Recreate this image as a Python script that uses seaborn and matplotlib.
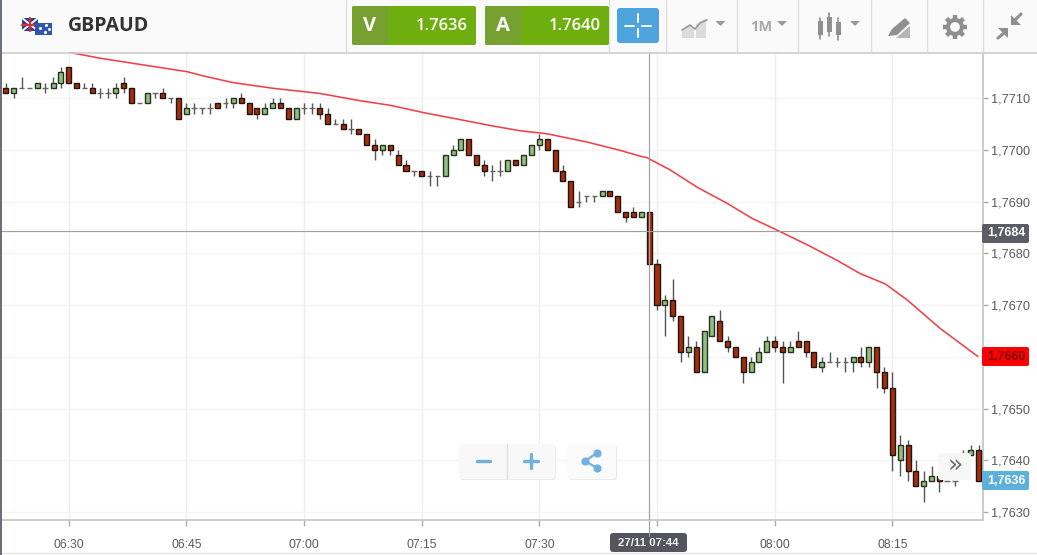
import numpy as np
import pandas as pd
import matplotlib
matplotlib.use("Agg")
import matplotlib.pyplot as plt
from matplotlib.patches import Circle, FancyBboxPatch, Polygon, Rectangle
import seaborn as sns

# candle values are in pips above this price, one candle per minute from 06:22
base_price = 1.76

open_pips = [
    112, 111, 112, 112, 112, 112, 112, 113, 116, 113,
    112, 112, 111, 111, 111, 113, 112, 109, 109, 111,
    111, 110, 110, 107, 108, 108, 108, 109, 109, 109,
    110, 109, 108, 107, 108, 109, 108, 106, 108, 108,
    108, 107, 105, 105, 104, 104, 103, 101, 100, 101,
    99, 97, 96, 96, 95, 95, 95, 99, 100, 102,
    99, 97, 96, 96, 96, 98, 97, 99, 101, 102,
    100, 96, 94, 90, 91, 91, 91, 92, 91, 88,
    88, 87, 88, 78, 70, 71, 68, 61, 62, 57,
    64, 67, 63, 62, 60, 57, 59, 61, 63, 62,
    61, 63, 63, 61, 58, 59, 59, 59, 59, 60,
    59, 62, 57, 54, 40, 43, 38, 35, 36, 37,
    36, 36, 39, 41, 42,
]
close_pips = [
    111, 112, 112, 112, 113, 112, 113, 115, 113, 112,
    112, 111, 111, 111, 112, 112, 109, 109, 111, 111,
    110, 110, 106, 108, 108, 108, 108, 108, 109, 110,
    109, 107, 107, 108, 109, 108, 106, 108, 108, 108,
    107, 105, 105, 104, 104, 103, 101, 100, 101, 100,
    97, 96, 96, 95, 95, 95, 99, 100, 102, 99,
    97, 96, 96, 96, 98, 97, 99, 101, 102, 100,
    96, 94, 89, 90, 91, 91, 92, 91, 88, 87,
    87, 88, 78, 70, 71, 68, 61, 62, 57, 65,
    68, 63, 62, 60, 57, 59, 61, 63, 62, 61,
    62, 62, 61, 58, 59, 59, 59, 59, 60, 59,
    62, 57, 54, 41, 43, 38, 35, 36, 37, 36,
    36, 36, 41, 42, 36,
]
high_pips = [
    113, 112, 114, 112, 113, 113, 114, 116, 116, 113,
    113, 113, 112, 112, 113, 114, 112, 109, 111, 111,
    112, 110, 110, 109, 109, 108, 109, 109, 110, 110,
    111, 109, 108, 109, 110, 110, 108, 108, 109, 109,
    109, 108, 106, 106, 106, 104, 103, 102, 101, 101,
    100, 98, 96, 96, 96, 95, 99, 101, 102, 102,
    99, 98, 97, 98, 98, 98, 99, 101, 103, 102,
    100, 97, 94, 92, 91, 91, 92, 92, 91, 88,
    89, 88, 88, 79, 72, 75, 68, 64, 63, 65,
    68, 69, 64, 62, 60, 60, 62, 64, 64, 63,
    63, 65, 63, 61, 60, 61, 60, 60, 60, 62,
    62, 62, 58, 57, 45, 44, 40, 38, 39, 37,
    36, 36, 42, 43, 43,
]
low_pips = [
    111, 110, 112, 112, 112, 111, 112, 112, 113, 112,
    112, 111, 110, 110, 110, 111, 109, 109, 109, 110,
    110, 109, 106, 107, 107, 107, 107, 108, 108, 108,
    109, 107, 106, 107, 108, 108, 106, 106, 107, 107,
    106, 105, 105, 104, 103, 103, 101, 98, 99, 99,
    97, 96, 95, 95, 93, 93, 95, 99, 100, 99,
    97, 95, 94, 95, 96, 97, 97, 99, 100, 100,
    96, 94, 89, 89, 90, 90, 91, 91, 88, 86,
    87, 87, 78, 69, 64, 67, 59, 60, 57, 57,
    64, 63, 61, 60, 55, 57, 59, 61, 61, 55,
    61, 62, 60, 58, 57, 59, 58, 57, 57, 58,
    58, 54, 53, 38, 37, 36, 35, 32, 36, 34,
    36, 35, 39, 41, 36,
]

# moving average
ma_minutes = [8.2, 12.0, 17.1, 23.1, 25.1, 28.9, 34.0, 40.0, 45.1, 49.0, 53.2, 57.0, 62.1, 65.5, 69.0, 74.1,
              78.3, 80.8, 81.7, 84.7, 88.1, 91.9, 95.2, 98.3, 102.1, 105.9, 108.9, 112.1, 114.9, 119.1, 123.9]
ma_pips = [118.8, 117.7, 116.5, 115.1, 114.3, 113.0, 111.9, 110.9, 109.5, 108.6, 107.2, 106.1, 104.6, 103.7, 103.1, 101.5,
           99.9, 98.8, 98.5, 96.1, 92.8, 89.7, 86.7, 84.5, 81.7, 78.7, 76.1, 74.1, 71.0, 65.5, 60.1]

x_tick_minutes = [8, 23, 38, 53, 68, 83, 98, 113]
x_tick_labels = ["06:30", "06:45", "07:00", "07:15", "07:30", "", "08:00", "08:15"]  # 07:45 sits under the time label
y_ticks = [1.7630, 1.7640, 1.7650, 1.7660, 1.7670, 1.7680, 1.7690, 1.7700, 1.7710]
y_tick_labels = ["1,7630", "1,7640", "1,7650", "", "1,7670", "1,7680", "1,7690", "1,7700", "1,7710"]  # 1,7660 is the red flag

cross_minute = 82
cross_price = 1.76843

sns.set_theme(style="white")
plt.rcParams["font.family"] = ["Liberation Sans", "DejaVu Sans"]

fig = plt.figure(figsize=(10.37, 5.55), dpi=100, facecolor="white")
ax = fig.add_axes([0, 35 / 555, 983 / 1037, 468 / 555])

opens = base_price + np.array(open_pips) / 10000
closes = base_price + np.array(close_pips) / 10000
highs = base_price + np.array(high_pips) / 10000
lows = base_price + np.array(low_pips) / 10000
minutes = np.arange(len(opens))

ax.set_xlim(-0.76, 124.56)
ax.set_ylim(1.76285, 1.77189)
ax.grid(True, axis="x", color="#eeeeee", linewidth=1, zorder=0)
ax.grid(True, axis="y", color="#f4f4f4", linewidth=1, zorder=0)
ax.set_axisbelow(True)

ax.vlines(minutes, lows, highs, color="#555555", linewidth=1.0, zorder=3)

up = closes > opens
down = closes < opens
flat = closes == opens
ax.bar(minutes[up], (closes - opens)[up], bottom=opens[up], width=0.64,
       color="#90bf80", edgecolor="#26321f", linewidth=1.0, zorder=4)
ax.bar(minutes[down], (opens - closes)[down], bottom=closes[down], width=0.64,
       color="#a62e0c", edgecolor="#1f1410", linewidth=1.0, zorder=4)
ax.hlines(opens[flat], minutes[flat] - 0.35, minutes[flat] + 0.35, color="#666666", linewidth=1.0, zorder=4)

ma_df = pd.DataFrame({"minute": ma_minutes, "price": base_price + np.array(ma_pips) / 10000})
sns.lineplot(data=ma_df, x="minute", y="price", color="#ee4249", linewidth=1.15, ax=ax, zorder=5)

ax.axvline(cross_minute, color="#a0a0a0", linewidth=0.85, zorder=6)
ax.axhline(cross_price, color="#a0a0a0", linewidth=0.85, zorder=6)

ax.set_xlabel("")
ax.set_ylabel("")
ax.set_xticks(x_tick_minutes)
ax.set_xticklabels(x_tick_labels)
ax.set_yticks(y_ticks)
ax.set_yticklabels(y_tick_labels)
ax.yaxis.tick_right()
ax.tick_params(axis="x", length=4, width=1, color="#aaaaaa", labelcolor="#5a5a5a", labelsize=8.7, pad=10, bottom=True)
ax.tick_params(axis="y", length=3.5, width=1, color="#aaaaaa", labelcolor="#5a5a5a", labelsize=9.2, pad=2, right=True)
for side in ["top", "left"]:
    ax.spines[side].set_visible(False)
for side in ["right", "bottom"]:
    ax.spines[side].set_color("#cccccc")
    ax.spines[side].set_linewidth(1.4)

# everything around the plot is placed in pixels on a clear overlay
ui = fig.add_axes([0, 0, 1, 1], facecolor="none", zorder=10)
ui.set_xlim(0, 1037)
ui.set_ylim(555, 0)
ui.axis("off")


def box(x0, y0, x1, y1, color, radius=2, edge="none", z=2):
    ui.add_patch(FancyBboxPatch((x0 + radius, y0 + radius), x1 - x0 - 2 * radius, y1 - y0 - 2 * radius,
                                boxstyle=f"round,pad={radius},rounding_size={radius}",
                                facecolor=color, edgecolor=edge, linewidth=0.8, zorder=z))


def rect(x0, y0, x1, y1, color, z=2):
    ui.add_patch(Rectangle((x0, y0), x1 - x0, y1 - y0, facecolor=color, edgecolor="none", zorder=z))


def arrow_down(cx, cy, half=5, color="#9a9a9a"):
    ui.add_patch(Polygon([(cx - half, cy - 2), (cx + half, cy - 2), (cx, cy + 3)], facecolor=color, edgecolor="none", zorder=3))


# header
rect(0, 0, 1037, 52, "#fafafa", z=1)
ui.plot([0, 1037], [52.5, 52.5], color="#cccccc", linewidth=1.2, zorder=2)
rect(0, 0, 1.5, 555, "#6d7078", z=3)
for xd in [346, 609, 665.5, 737, 798, 870.5, 926.5, 982.5]:
    ui.plot([xd, xd], [0, 52], color="#dddddd", linewidth=1, zorder=2)

# flags
rect(22, 18, 38, 31, "#2b3f8c", z=3)
ui.plot([22, 38], [18, 31], color="white", linewidth=1.4, zorder=3)
ui.plot([22, 38], [31, 18], color="white", linewidth=1.4, zorder=3)
ui.plot([30, 30], [18, 31], color="#d0303a", linewidth=1.6, zorder=3)
ui.plot([22, 38], [24.5, 24.5], color="#d0303a", linewidth=1.6, zorder=3)
rect(35, 23, 52, 34.5, "#2f56a8", z=4)
ui.scatter([40, 46, 49, 45], [28, 25, 29, 32], s=1.5, color="white", zorder=5)
ui.text(68, 26, "GBPAUD", family="Open Sans", fontsize=14, fontweight="bold", color="#333333", va="center", ha="left", zorder=4)

# bid and ask buttons
for x0, letter, price in [(352, "V", "1.7636"), (485, "A", "1.7640")]:
    box(x0, 6, x0 + 124, 45, "#6fae0f", radius=2)
    box(x0, 6, x0 + 36, 45, "#76a02f", radius=2, z=3)
    rect(x0 + 33, 6, x0 + 36, 45, "#76a02f", z=3)
    ui.text(x0 + 18, 26, letter, family="Open Sans", fontsize=14.5, fontweight="bold", color="white", ha="center", va="center", zorder=4)
    ui.text(x0 + 116, 25.5, price, family="Open Sans", fontsize=12, fontweight="semibold", color="white", ha="right", va="center", zorder=4)

# crosshair button
box(617, 8, 659, 43, "#4ea4dd", radius=3)
for seg in [([625, 634], [25.5, 25.5]), ([642, 651], [25.5, 25.5]), ([638, 638], [14, 22]), ([638, 638], [29, 37])]:
    ui.plot(seg[0], seg[1], color="white", linewidth=1.4, zorder=4)

# chart type icon
ui.add_patch(Polygon([(682, 38), (682, 29), (690, 25), (694, 29), (694, 38)], facecolor="#dcdcdc", edgecolor="none", zorder=3))
ui.add_patch(Polygon([(696, 38), (696, 24), (706, 18), (706, 38)], facecolor="#dcdcdc", edgecolor="none", zorder=3))
ui.plot([682, 690, 695, 700, 707], [30, 25, 29, 23, 20], color="#9a9a9a", linewidth=1.2, zorder=4)
arrow_down(720.5, 23)

ui.text(750, 27, "1M", family="Open Sans", fontsize=10.5, fontweight="bold", color="#a8a8a8", ha="left", va="center", zorder=4)
arrow_down(782, 23)

# candle icon
for cx, top, bot, t2, b2 in [(820, 21, 35, 18, 39), (829, 17, 32, 13, 36), (838, 22, 35, 18, 40)]:
    rect(cx - 2.5, top, cx + 2.5, bot, "#8f8f8f", z=3)
    ui.plot([cx, cx], [t2, b2], color="#8f8f8f", linewidth=1.2, zorder=3)
arrow_down(855, 23)

# pencil icon
ui.add_patch(Polygon([(888, 36), (892, 29), (905, 18), (910, 23), (897, 35)], facecolor="#8f8f8f", edgecolor="none", zorder=3))
ui.add_patch(Polygon([(896, 38), (910, 38), (910, 26)], facecolor="#b5b5b5", edgecolor="none", zorder=3))

# gear icon
for angle in np.arange(0, 360, 45):
    dx, dy = np.cos(np.radians(angle)), np.sin(np.radians(angle))
    ui.plot([955 + 8 * dx, 955 + 12 * dx], [27 + 8 * dy, 27 + 12 * dy], color="#8f8f8f", linewidth=3.2, zorder=3, solid_capstyle="butt")
ui.add_patch(Circle((955, 27), 7, facecolor="none", edgecolor="#8f8f8f", linewidth=3, zorder=3))

# collapse icon, two arrows pointing at the centre
ui.add_patch(Polygon([(1011, 15), (1011, 25), (1021, 25)], facecolor="#8f8f8f", edgecolor="none", zorder=3))
ui.plot([1015, 1021], [20, 14], color="#8f8f8f", linewidth=2.2, zorder=3)
ui.add_patch(Polygon([(998, 28), (1008, 28), (1008, 38)], facecolor="#8f8f8f", edgecolor="none", zorder=3))
ui.plot([1004, 998], [33, 38], color="#8f8f8f", linewidth=2.2, zorder=3)

# price flags on the axis
for y0, y1, color, txt, tcolor in [(224, 243, "#5c5c66", "1,7684", "white"),
                                   (347, 366, "#ff0000", "1,7660", "#7a0000"),
                                   (471, 490, "#5bb0dc", "1,7636", "white")]:
    box(982, y0, 1029, y1, color, radius=2)
    ui.text(1006, (y0 + y1) / 2, txt, fontsize=9, fontweight="bold", color=tcolor, ha="center", va="center", zorder=4)

# crosshair time label
box(610, 533, 687, 552, "#55555f", radius=3)
ui.plot([648.5, 648.5], [521, 536], color="#a0a0a0", linewidth=0.85, zorder=3)
ui.text(648.5, 542.5, "27/11 07:44", fontsize=8.2, fontweight="bold", color="#f0f0f0", ha="center", va="center", zorder=4)
ui.plot([0, 1037], [552.5, 552.5], color="#e4e4e4", linewidth=1, zorder=1)

# zoom and share buttons
box(460, 445, 556, 480, "#e9e9e9", radius=3, z=2)
box(459, 444, 555, 479, "#f8f8f8", radius=3, z=3)
ui.plot([506.5, 506.5], [444, 479], color="#dddddd", linewidth=1, zorder=4)
ui.plot([477, 490], [461, 461], color="#6fb2de", linewidth=2.4, zorder=4)
ui.plot([524, 538], [461, 461], color="#6fb2de", linewidth=2.4, zorder=4)
ui.plot([531, 531], [454, 468], color="#6fb2de", linewidth=2.4, zorder=4)
box(568, 445, 617, 480, "#e9e9e9", radius=3, z=2)
box(567, 444, 616, 479, "#fbfbfb", radius=3, z=3)
ui.plot([597, 585, 597], [453, 461, 468], color="#6fb2de", linewidth=1.6, zorder=4)
ui.scatter([597, 585, 597], [453, 461, 468], s=24, color="#6fb2de", zorder=5)

# scroll button
box(938, 453, 971, 480, "#f7f7f7", radius=3)
ui.text(955, 465.5, "»", family="DejaVu Sans", fontsize=18, color="#6f6f6f", ha="center", va="center", zorder=4)

fig.savefig("out.png", dpi=100)
